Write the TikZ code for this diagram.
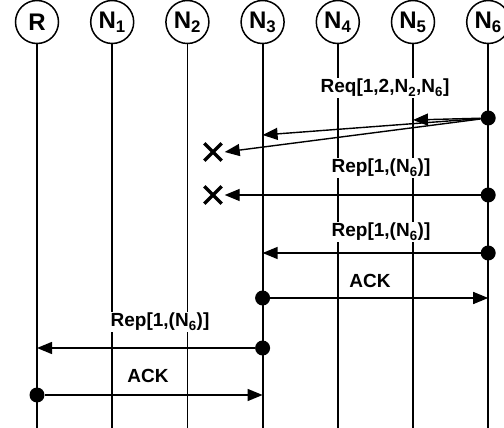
\documentclass[tikz,border=0pt]{standalone}
\usepackage{fontspec}
\setmainfont{Liberation Sans}
\usetikzlibrary{arrows.meta, positioning, shapes.misc}

\begin{document}
\begin{tikzpicture}[
  x=1pt, y=-1pt,
  party/.style={draw, line width=1.5pt, circle, minimum size=43pt, inner sep=0pt,
                font=\bfseries\fontsize{24}{24}\selectfont},
  life/.style={line width=1.8pt},
  dot/.style={circle, fill, inner sep=0pt, minimum size=15pt},
  msg/.style={-{Triangle[length=15pt,width=12pt]}, line width=1.4pt},
  lbl/.style={fill=white, inner sep=1pt, font=\bfseries\fontsize{19}{19}\selectfont},
  lost/.style={cross out, draw, line width=3.4pt, minimum size=14pt, inner sep=0pt},
  node distance=30.7pt
]
  \useasboundingbox (0,0) rectangle (504,428);

  % participants
  \node[party] (R) at (37,22) {R};
  \node[party, right=of R]  (N1) {N\textsubscript{1}};
  \node[party, right=of N1] (N2) {N\textsubscript{2}};
  \node[party, right=of N2] (N3) {N\textsubscript{3}};
  \node[party, right=of N3] (N4) {N\textsubscript{4}};
  \node[party, right=of N4] (N5) {N\textsubscript{5}};
  \node[party, right=of N5] (N6) {N\textsubscript{6}};

  % lifelines
  \foreach \p in {R,N1,N2,N3,N4,N5,N6} {
    \coordinate (\p-end) at (\p |- 0,428);
    \draw[life] (\p) -- (\p-end);
  }

  % labels
  \node[lbl] (req)  at (385,88)  {Req[1,2,N\textsubscript{2},N\textsubscript{6}]};
  \node[lbl] (rep1) at (381,168) {Rep[1,(N\textsubscript{6})]};
  \node[lbl] (rep2) at (381,232) {Rep[1,(N\textsubscript{6})]};
  \node[lbl] (ack1) at (370,281) {ACK};
  \node[lbl] (rep3) at (160,322) {Rep[1,(N\textsubscript{6})]};
  \node[lbl] (ack2) at (148,376) {ACK};

  % request broadcast from N6
  \node[dot] (s1) at (N6 |- 0,118) {};
  \coordinate (t1a) at (N5 |- 0,120);
  \coordinate (t1b) at (N3 |- 0,135);
  \node[lost] (x1) at (213,152) {};
  \draw[msg] (s1) -- (t1a);
  \draw[msg] (s1) -- (t1b);
  \draw[msg] (s1) -- ([xshift=3pt]x1.east);

  % first reply gets lost
  \node[dot] (s2) at (N6 |- 0,195) {};
  \node[lost] (x2) at (213,195) {};
  \draw[msg] (s2) -- ([xshift=3pt]x2.east);

  % reply N6 -> N3 and ack
  \node[dot] (s3) at (N6 |- 0,253) {};
  \coordinate (t3) at (N3 |- 0,253);
  \draw[msg] (s3) -- (t3);
  \node[dot] (s4) at (N3 |- 0,298) {};
  \coordinate (t4) at (N6 |- 0,298);
  \draw[msg] (s4) -- (t4);

  % reply N3 -> R and ack
  \node[dot] (s5) at (N3 |- 0,348) {};
  \coordinate (t5) at (R |- 0,348);
  \draw[msg] (s5) -- (t5);
  \node[dot] (s6) at (R |- 0,395) {};
  \coordinate (t6) at (N3 |- 0,395);
  \draw[msg] (s6) -- (t6);

\end{tikzpicture}
\end{document}
